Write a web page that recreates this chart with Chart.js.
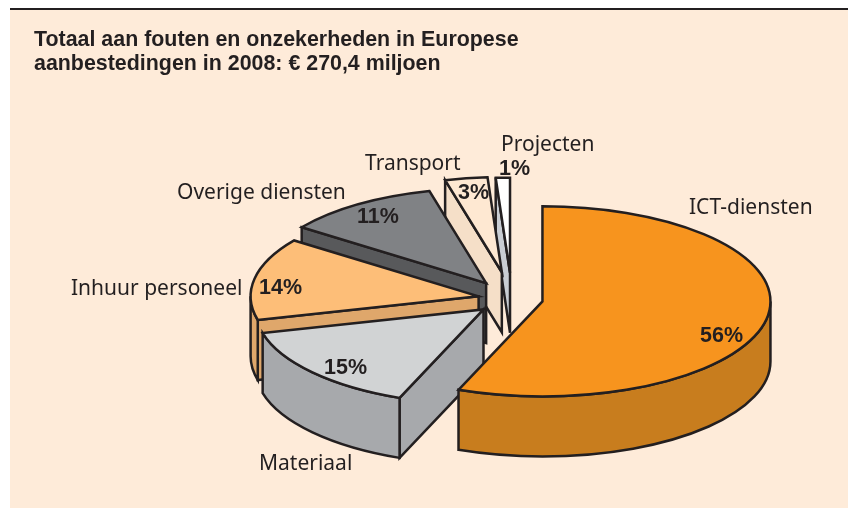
<!DOCTYPE html>
<html>
<head>
<meta charset="utf-8">
<script src="https://cdn.jsdelivr.net/npm/chart.js@4"></script>
<style>
html, body { margin: 0; padding: 0; background: #fff; }
#panel { position: absolute; left: 10px; top: 8px; width: 838px; height: 498px; background: #feebd9; border-top: 2px solid #231f20; }
#canvas-pie { position: absolute; left: 0; top: 0; }
</style>
</head>
<body>
<div id="panel"></div>
<canvas id="canvas-pie" width="848" height="508"></canvas>
<script>
// Data
const titleLines = ['Totaal aan fouten en onzekerheden in Europese', 'aanbestedingen in 2008: € 270,4 miljoen'];
const categories = ['ICT-diensten', 'Materiaal', 'Inhuur personeel', 'Overige diensten', 'Transport', 'Projecten'];
const shares = [56, 15, 14, 11, 3, 1];

// Look of the slices
const topColors = ['#f7941e', '#d1d3d4', '#fdbe78', '#808285', '#fee8d2', '#ffffff'];
const wallColors = ['#c87d1e', '#a7a9ac', '#dfa76b', '#58595b', '#f5dfc8', '#c9cdd3'];
const explode = [31, 38, 34, 46, 65, 63];
const paintOrder = [5, 4, 3, 2, 1, 0];

const CX = 512, CY = 299, RADIUS = 228, SQUASH = 0.417, DEPTH = 60;
const INK = '#231f20';

// x, baseline
const namePos = [[689, 214], [259, 470], [71, 295], [177, 199], [365, 170], [501, 151]];
const sharePos = [[700, 342], [324, 374], [259, 294], [357, 223], [458, 199], [499, 175]];

const pie3d = {
    id: 'pie3d',
    beforeDatasetsDraw(chart) {
        const ctx = chart.ctx;
        const arcs = chart.getDatasetMeta(0).data;

        paintOrder.forEach(i => {
            const arc = arcs[i];
            const start = arc.startAngle, end = arc.endAngle;
            const mid = (start + end) / 2;
            const ax = CX + Math.cos(mid) * explode[i];
            const ay = CY + Math.sin(mid) * explode[i] * SQUASH;
            const rimX = a => ax + Math.cos(a) * RADIUS;
            const rimY = a => ay + Math.sin(a) * RADIUS * SQUASH;

            ctx.save();
            ctx.lineWidth = 2.5;
            ctx.lineJoin = 'miter';
            ctx.strokeStyle = INK;
            ctx.fillStyle = wallColors[i];

            // cut face, only the one turned to the viewer
            if (Math.cos(start) < -0.001) {
                ctx.beginPath();
                ctx.moveTo(ax, ay);
                ctx.lineTo(rimX(start), rimY(start));
                ctx.lineTo(rimX(start), rimY(start) + DEPTH);
                ctx.lineTo(ax, ay + DEPTH);
                ctx.closePath();
                ctx.fill();
                ctx.stroke();
            }

            // outer wall, front half only
            const from = Math.max(start, 0), to = Math.min(end, Math.PI);
            if (to > from) {
                ctx.beginPath();
                ctx.ellipse(ax, ay, RADIUS, RADIUS * SQUASH, 0, from, to);
                ctx.ellipse(ax, ay + DEPTH, RADIUS, RADIUS * SQUASH, 0, to, from, true);
                ctx.closePath();
                ctx.fill();
                ctx.stroke();
            }

            // top of the slice comes from the library's own arc
            ctx.save();
            ctx.translate(ax, ay);
            ctx.scale(1, SQUASH);
            ctx.translate(-arc.x, -arc.y);
            arc.draw(ctx);
            ctx.restore();

            // outline is stroked unsquashed so the line stays even
            ctx.beginPath();
            ctx.moveTo(ax, ay);
            ctx.ellipse(ax, ay, RADIUS, RADIUS * SQUASH, 0, start, end);
            ctx.closePath();
            ctx.stroke();
            ctx.restore();
        });
        return false;
    },
    afterDraw(chart) {
        const ctx = chart.ctx;
        ctx.save();
        ctx.fillStyle = INK;
        ctx.textBaseline = 'alphabetic';
        ctx.textAlign = 'left';
        ctx.font = '21px "Noto Sans"';
        categories.forEach((name, i) => ctx.fillText(name, namePos[i][0], namePos[i][1]));
        ctx.font = 'bold 21.5px "Liberation Sans"';
        shares.forEach((v, i) => ctx.fillText(v + '%', sharePos[i][0], sharePos[i][1]));
        ctx.restore();
    }
};

const myChartPie = new Chart(document.getElementById('canvas-pie').getContext('2d'), {
    type: 'pie',
    data: {
        labels: categories,
        datasets: [{
            data: shares,
            backgroundColor: topColors,
            borderWidth: 0
        }]
    },
    options: {
        responsive: false,
        animation: false,
        radius: RADIUS,
        rotation: 0,
        layout: { padding: { left: 34, top: 29 } },
        plugins: {
            legend: { display: false },
            tooltip: { enabled: false },
            title: {
                display: true,
                text: titleLines,
                align: 'start',
                color: INK,
                padding: 0,
                font: { family: '"Liberation Sans"', weight: 'bold', size: 21.4, lineHeight: 1.08 }
            }
        }
    },
    plugins: [pie3d]
});
</script>
</body>
</html>
